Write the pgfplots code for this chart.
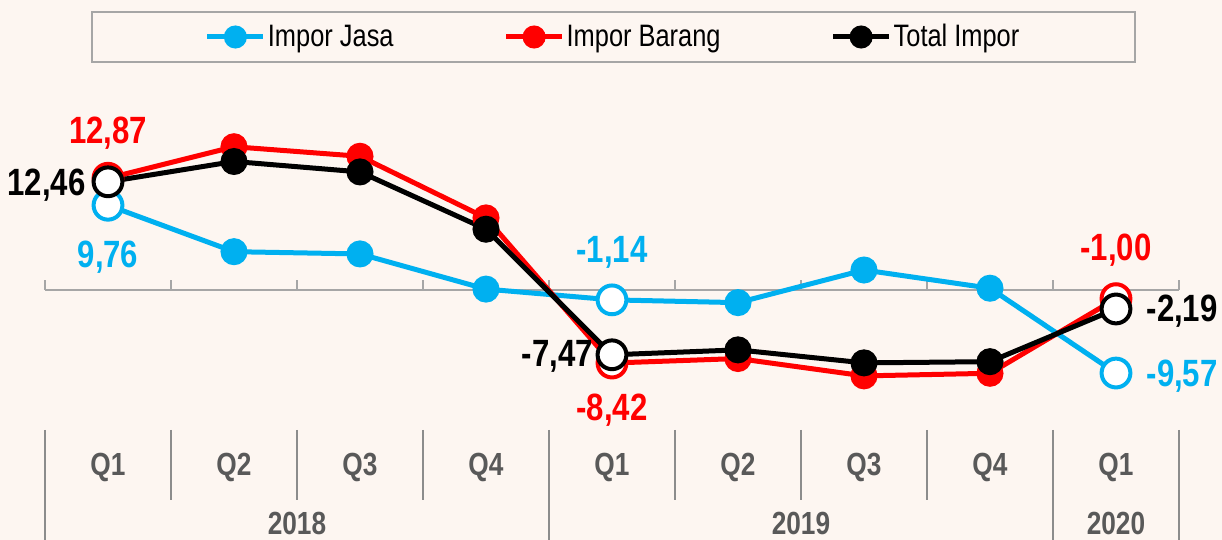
\documentclass[border=0pt]{standalone}
\usepackage{pgfplots}
\pgfplotsset{compat=1.18}
\usepackage{fontspec}
\setmainfont{Liberation Sans}[FakeStretch=0.82]
\definecolor{bg}{HTML}{FDF6F1}
\definecolor{jasa}{HTML}{00B0F0}
\definecolor{barang}{HTML}{FF0000}
\definecolor{catgray}{HTML}{595959}
\definecolor{axgray}{HTML}{A6A6A6}
\definecolor{sepgray}{HTML}{8C8C8C}

\begin{document}
\begin{tikzpicture}
\fill[bg] (0,0) rectangle (611pt,270pt);
\begin{axis}[
    at={(22.5pt,60pt)}, anchor=south west,
    scale only axis, width=567pt, height=170pt,
    xmin=-0.5, xmax=8.5, ymin=-14.98, ymax=24.19,
    hide axis, clip=false,
    legend columns=3,
    legend style={draw=none, fill=none, at={(0.501,1.1265)}, anchor=center,
        font=\fontsize{15.5}{16}\selectfont, nodes={inner sep=1pt},
        /tikz/every even column/.append style={column sep=54pt}},
    legend image code/.code={\draw[mark repeat=2,mark phase=2,#1]
        plot coordinates {(0pt,0pt) (14pt,0pt) (28pt,0pt)};},
    legend image post style={mark size=4.5pt},
    every axis plot/.append style={line width=2.5pt, mark=*, mark size=5.5pt},
  ]
  % legend frame
  \draw[axgray, line width=1pt] (rel axis cs:0.0414,1.2) rectangle (rel axis cs:0.9612,1.0529);

  % x axis line with boundary ticks
  \draw[axgray, line width=1pt] (axis cs:-0.5,0) -- (axis cs:8.5,0);
  \pgfplotsinvokeforeach{-0.5,0.5,1.5,2.5,3.5,4.5,5.5,6.5,7.5,8.5}{
    \draw[axgray, line width=1pt] (axis cs:#1,0) -- (axis cs:#1,1.15);
  }

  % category separators
  \pgfplotsinvokeforeach{0.5,1.5,2.5,4.5,5.5,6.5}{
    \draw[sepgray, line width=0.8pt] (axis cs:#1,-16.13) -- (axis cs:#1,-24.18);
  }
  \pgfplotsinvokeforeach{-0.5,3.5,7.5,8.5}{
    \draw[sepgray, line width=0.8pt] (axis cs:#1,-16.13) -- (axis cs:#1,-29.3);
  }

  % series
  \addplot[jasa] coordinates {
    (0,9.76) (1,4.41) (2,4.15) (3,0.1) (4,-1.14) (5,-1.46) (6,2.3) (7,0.2) (8,-9.57)
  };
  \addlegendentry{Impor Jasa}
  \addplot[only marks, forget plot, mark size=7.2pt, mark options={draw=jasa, fill=white, line width=2pt}]
    coordinates {(0,9.76) (4,-1.14) (8,-9.57)};

  \addplot[barang] coordinates {
    (0,12.87) (1,16.5) (2,15.4) (3,8.3) (4,-8.42) (5,-7.9) (6,-9.9) (7,-9.6) (8,-1.00)
  };
  \addlegendentry{Impor Barang}
  \addplot[only marks, forget plot, mark size=7.2pt, mark options={draw=barang, fill=white, line width=2pt}]
    coordinates {(0,12.87) (4,-8.42) (8,-1.00)};

  \addplot[black] coordinates {
    (0,12.46) (1,14.8) (2,13.6) (3,7.0) (4,-7.47) (5,-6.9) (6,-8.4) (7,-8.26) (8,-2.19)
  };
  \addlegendentry{Total Impor}
  \addplot[only marks, forget plot, mark size=7.2pt, mark options={draw=black, fill=white, line width=2pt}]
    coordinates {(0,12.46) (4,-7.47) (8,-2.19)};

  % data labels
  \begin{scope}[every node/.style={inner sep=0pt, font=\fontsize{19}{19}\selectfont\bfseries}]
    \node[barang, anchor=center] at (axis cs:0,18.09) {12,87};
    \node[black, anchor=east] at (axis cs:-0.175,12.1) {12,46};
    \node[jasa, anchor=center] at (axis cs:0,3.8) {9,76};
    \node[jasa, anchor=center] at (axis cs:4,4.38) {-1,14};
    \node[black, anchor=east] at (axis cs:3.85,-7.6) {-7,47};
    \node[barang, anchor=center] at (axis cs:4,-13.8) {-8,42};
    \node[barang, anchor=center] at (axis cs:8,4.6) {-1,00};
    \node[black, anchor=west] at (axis cs:8.24,-2.42) {-2,19};
    \node[jasa, anchor=west] at (axis cs:8.24,-9.9) {-9,57};
  \end{scope}

  % category labels
  \begin{scope}[every node/.style={inner sep=0pt, catgray, font=\fontsize{16}{16}\selectfont\bfseries}]
    \node at (axis cs:0,-20.5) {Q1};
    \node at (axis cs:1,-20.5) {Q2};
    \node at (axis cs:2,-20.5) {Q3};
    \node at (axis cs:3,-20.5) {Q4};
    \node at (axis cs:4,-20.5) {Q1};
    \node at (axis cs:5,-20.5) {Q2};
    \node at (axis cs:6,-20.5) {Q3};
    \node at (axis cs:7,-20.5) {Q4};
    \node at (axis cs:8,-20.5) {Q1};
    \node at (axis cs:1.5,-26.9) {2018};
    \node at (axis cs:5.5,-26.9) {2019};
    \node at (axis cs:8,-26.9) {2020};
  \end{scope}
\end{axis}
\pgfresetboundingbox
\path (0,0) rectangle (611pt,270pt);
\end{tikzpicture}
\end{document}
